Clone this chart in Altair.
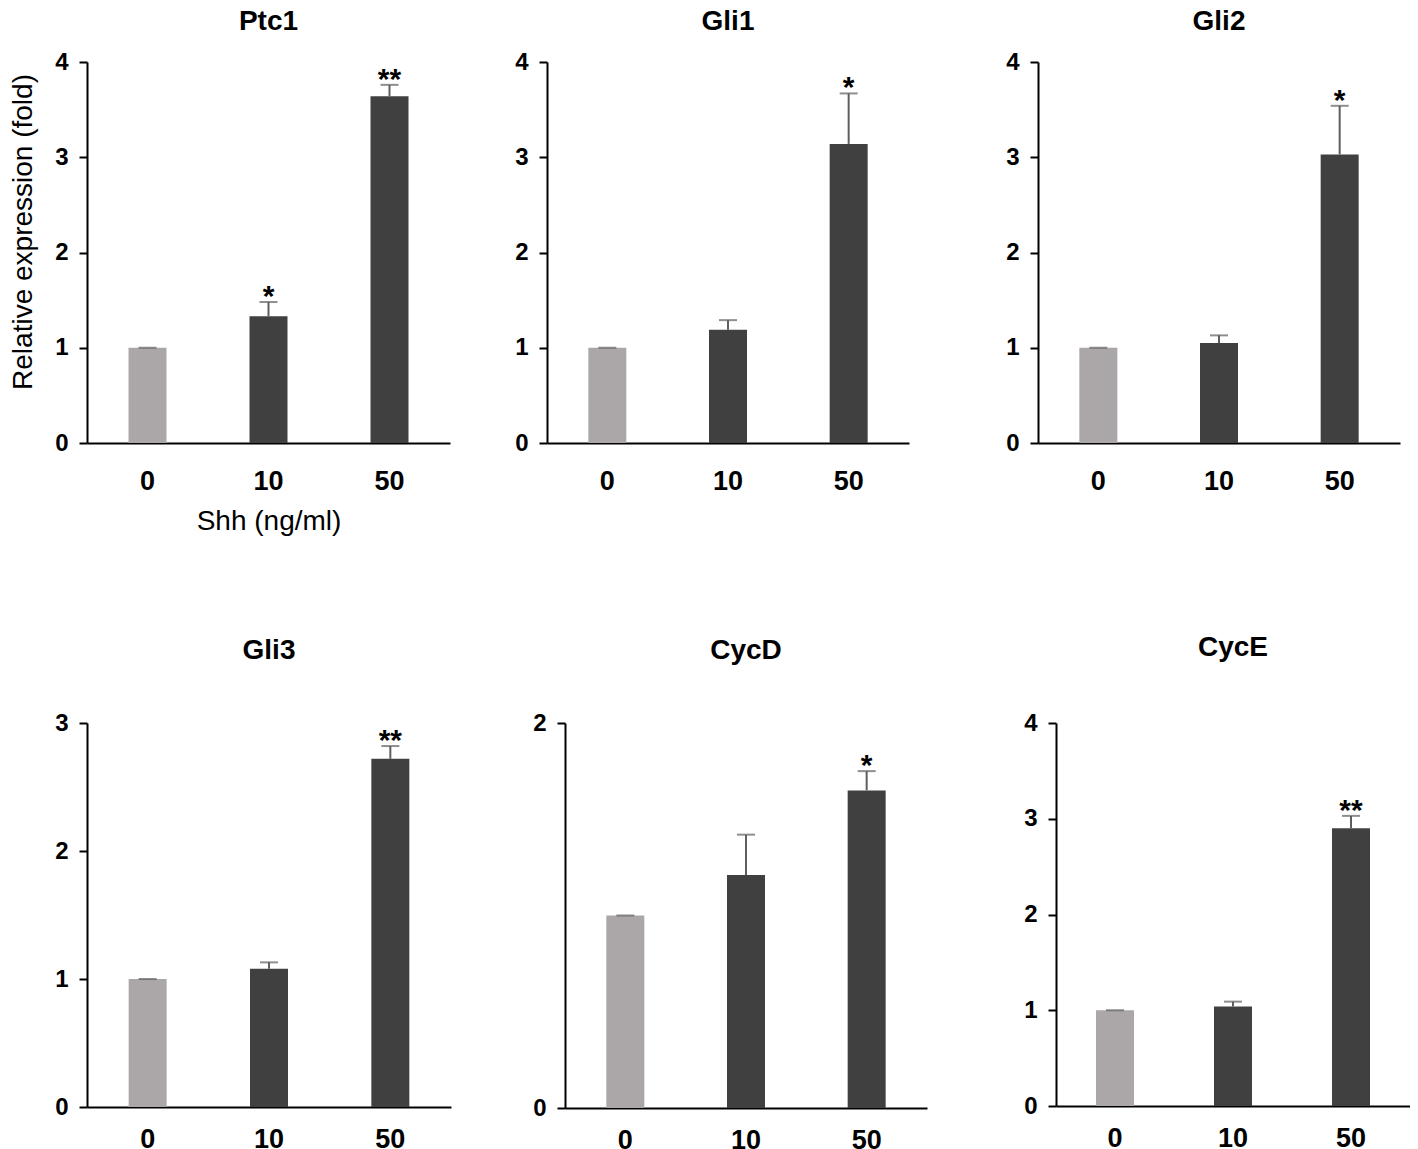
import altair as alt
import pandas as pd

# ---- data ----
doses = ["0", "10", "50"]
groups = ["control", "treated", "treated"]

ptc1_mean = [1.00, 1.33, 3.64]
ptc1_err = [0.00, 0.15, 0.12]
ptc1_sig = ["", "*", "**"]

gli1_mean = [1.00, 1.19, 3.14]
gli1_err = [0.00, 0.10, 0.53]
gli1_sig = ["", "", "*"]

gli2_mean = [1.00, 1.05, 3.03]
gli2_err = [0.00, 0.08, 0.51]
gli2_sig = ["", "", "*"]

gli3_mean = [1.00, 1.08, 2.72]
gli3_err = [0.00, 0.05, 0.10]
gli3_sig = ["", "", "**"]

cycd_mean = [1.00, 1.21, 1.65]
cycd_err = [0.00, 0.21, 0.10]
cycd_sig = ["", "", "*"]

cyce_mean = [1.00, 1.04, 2.90]
cyce_err = [0.00, 0.05, 0.13]
cyce_sig = ["", "", "**"]

FONT = "Liberation Sans"
LIGHT = "#ABA7A8"
DARK = "#404040"
ERR = "#5E5E5E"


def panel(title, means, errs, sigs, ymax, width, height, extent,
          title_offset, xpad, ytitle=None, xtitle=None):
    df = pd.DataFrame({
        "dose": doses,
        "group": groups,
        "mean": means,
        "upper": [m + e for m, e in zip(means, errs)],
        "sig": sigs,
    })
    x = alt.X("dose:N", sort=doses,
              scale=alt.Scale(paddingInner=0, paddingOuter=0),
              axis=alt.Axis(title=xtitle, labelAngle=0, ticks=False,
                            labelPadding=xpad, labelFontSize=27,
                            labelFontWeight="bold", labelFont=FONT,
                            labelColor="black",
                            domainColor="black", domainWidth=2,
                            titleFont=FONT, titleFontSize=28,
                            titleFontWeight="normal", titleColor="black",
                            titlePadding=13))
    yargs = dict(values=list(range(ymax + 1)), format="d",
                 tickSize=8, tickWidth=2, tickColor="black",
                 domainColor="black", domainWidth=2, grid=False,
                 labelPadding=11, labelFontSize=24, labelFontWeight="bold",
                 labelFont=FONT, labelColor="black",
                 minExtent=extent, maxExtent=extent)
    if ytitle:
        yargs.update(title=ytitle, titleFont=FONT, titleFontSize=28,
                     titleFontWeight="normal", titleColor="black",
                     titleX=-50, titleY=height / 2 - 21)
    else:
        yargs.update(title=None)
    yaxis = alt.Axis(**yargs)
    yscale = alt.Scale(domain=[0, ymax], nice=False)
    base = alt.Chart(df).encode(x=x)
    bars = base.mark_bar(width=38).encode(
        y=alt.Y("mean:Q", scale=yscale, axis=yaxis),
        color=alt.Color("group:N", legend=None,
                        scale=alt.Scale(domain=["control", "treated"],
                                        range=[LIGHT, DARK])),
    )
    rule = base.mark_rule(color=ERR, strokeWidth=2).encode(
        y="mean:Q", y2="upper:Q")
    cap = base.mark_tick(color=ERR, thickness=2, size=18).encode(y="upper:Q")
    stars = base.mark_text(font=FONT, fontSize=30, fontWeight="bold",
                           color="black", baseline="alphabetic", dy=4).encode(
        y="upper:Q", text="sig:N")
    return alt.layer(bars, rule, cap, stars).properties(
        width=width, height=height,
        title=alt.TitleParams(title, font=FONT, fontSize=28,
                              fontWeight="bold", color="black",
                              offset=title_offset),
    )


row1 = alt.hconcat(
    panel("Ptc1", ptc1_mean, ptc1_err, ptc1_sig, 4, 363, 381, 30, 14, 25,
          ytitle="Relative expression (fold)", xtitle="Shh (ng/ml)"),
    panel("Gli1", gli1_mean, gli1_err, gli1_sig, 4, 362, 381, 97, 14, 25),
    panel("Gli2", gli2_mean, gli2_err, gli2_sig, 4, 362, 381, 129, 14, 25),
    spacing=0,
)
row2 = alt.hconcat(
    panel("Gli3", gli3_mean, gli3_err, gli3_sig, 3, 364, 384, 79, 46, 19),
    panel("CycD", cycd_mean, cycd_err, cycd_sig, 2, 362, 385, 114, 46, 19),
    panel("CycE", cyce_mean, cyce_err, cyce_sig, 4, 354, 383, 129, 49, 19),
    spacing=0,
)

chart = alt.vconcat(row1, row2, spacing=99).configure(
    padding=0, background="white"
).configure_view(stroke=None)

chart.save("out.html", embed_options={"renderer": "svg", "actions": False})
